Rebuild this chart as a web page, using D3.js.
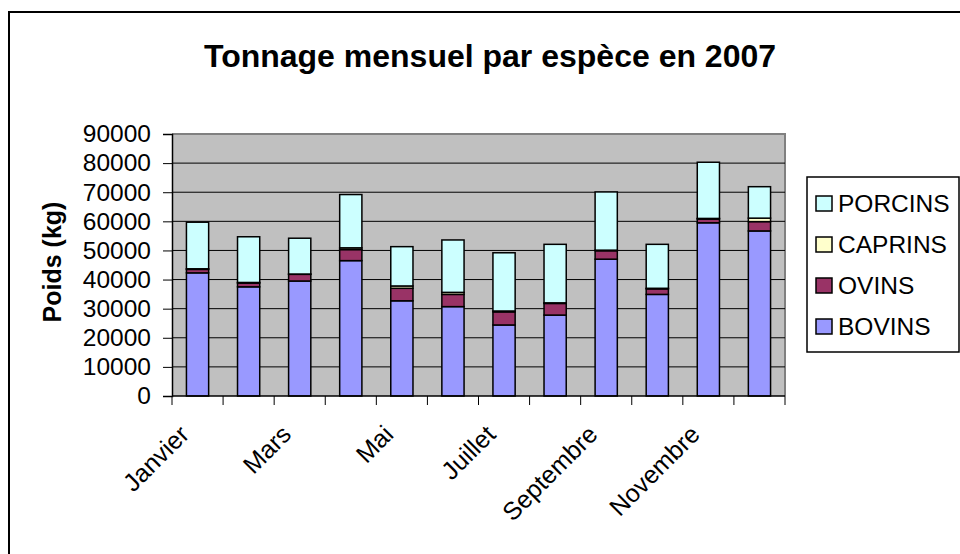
<!DOCTYPE html>
<html><head><meta charset="utf-8">
<script src="https://cdn.jsdelivr.net/npm/d3@7"></script>
<style>body{margin:0;background:#fff;} svg{display:block;}</style>
</head><body>
<svg id="chart" width="960" height="554"></svg>
<script>
const months = ["Janvier","Février","Mars","Avril","Mai","Juin","Juillet","Août","Septembre","Octobre","Novembre","Décembre"];
const shownLabels = ["Janvier","Mars","Mai","Juillet","Septembre","Novembre"];
const bovins  = [42300, 37500, 39500, 46500, 32700, 30700, 24400, 27800, 47000, 34900, 59500, 56700];
const ovins   = [ 1200,  1300,  2300,  3800,  4300,  4200,  4500,  4000,  2900,  1900,  1300,  3200];
const caprins = [  200,   200,   100,   600,   800,   700,   300,   200,   200,   200,   200,  1200];
const porcins = [16000, 15700, 12300, 18300, 13500, 18000, 20000, 20100, 20000, 15100, 19300, 10800];
const seriesNames = ["BOVINS","OVINS","CAPRINS","PORCINS"];
const seriesColors = ["#9999FF","#993366","#FFFFCC","#CCFFFF"];
const yTicks = [0,10000,20000,30000,40000,50000,60000,70000,80000,90000];
const title = "Tonnage mensuel par espèce en 2007";
const yTitle = "Poids (kg)";

(function(){
const svg = d3.select("#chart");
const font = "Arial, 'Liberation Sans', sans-serif";

// outer frame
svg.append("rect").attr("x",9).attr("y",12).attr("width",1000).attr("height",600)
  .attr("fill","#fff").attr("stroke","#000").attr("stroke-width",2);

const pL = 172, pR = 785, pT = 134, pB = 396;
const x = d3.scaleBand().domain(months).range([pL,pR]).padding(0);
const y = d3.scaleLinear().domain([0,90000]).range([pB,pT]);

// plot area
svg.append("rect").attr("x",pL).attr("y",pT).attr("width",pR-pL).attr("height",pB-pT)
  .attr("fill","#C0C0C0");
svg.append("path").attr("d",`M${pL},${pT}H${pR}V${pB}`).attr("fill","none")
  .attr("stroke","#808080").attr("stroke-width",2);

// gridlines
svg.append("g").selectAll("line").data(yTicks.slice(1,-1)).join("line")
  .attr("x1",pL).attr("x2",pR).attr("y1",d=>y(d)).attr("y2",d=>y(d))
  .attr("stroke","#000").attr("stroke-width",1);

// stacked data
const table = months.map((m,i)=>({month:m, BOVINS:bovins[i], OVINS:ovins[i], CAPRINS:caprins[i], PORCINS:porcins[i]}));
const stack = d3.stack().keys(seriesNames)(table);
const bw = x.bandwidth()/2.3;
const gBars = svg.append("g");
stack.forEach((s,si)=>{
  gBars.selectAll(null).data(s).join("rect")
    .attr("x",d=>x(d.data.month)+x.bandwidth()/2-bw/2)
    .attr("width",bw)
    .attr("y",d=>y(d[1]))
    .attr("height",d=>y(d[0])-y(d[1]))
    .attr("fill",seriesColors[si])
    .attr("stroke","#000").attr("stroke-width",1.5);
});

// y axis
const yAxis = d3.axisLeft(y).tickValues(yTicks).tickSize(9).tickPadding(12).tickFormat(d3.format("d"));
const gy = svg.append("g").attr("transform",`translate(${pL},0)`).call(yAxis);
gy.select(".domain").attr("stroke","#000").attr("stroke-width",1.5);
gy.selectAll(".tick line").attr("stroke","#000");
gy.selectAll(".tick text").attr("font-family",font).attr("font-size",24.5).attr("fill","#000");

// x axis
const gx = svg.append("g").attr("transform",`translate(0,${pB})`);
gx.append("line").attr("x1",pL).attr("x2",pR).attr("y1",0).attr("y2",0).attr("stroke","#000").attr("stroke-width",1.5);
const boundaries = months.map(m=>x(m)).concat([pR]);
gx.selectAll(".xt").data(boundaries).join("line").attr("class","xt")
  .attr("x1",d=>d).attr("x2",d=>d).attr("y1",0).attr("y2",9).attr("stroke","#000");
gx.selectAll(".xl").data(shownLabels).join("text").attr("class","xl")
  .attr("transform",d=>`translate(${x(d)+x.bandwidth()/2-7},${40}) rotate(-45)`)
  .attr("text-anchor","end").attr("font-family",font).attr("font-size",25).attr("fill","#000")
  .text(d=>d);

// title
svg.append("text").attr("x",490).attr("y",67).attr("text-anchor","middle")
  .attr("font-family",font).attr("font-weight","bold").attr("font-size",32).text(title);

// y title
svg.append("text").attr("transform",`translate(61,262) rotate(-90)`).attr("text-anchor","middle")
  .attr("font-family",font).attr("font-weight","bold").attr("font-size",25).text(yTitle);

// legend
const lg = svg.append("g");
lg.append("rect").attr("x",807).attr("y",177).attr("width",152).attr("height",175)
  .attr("fill","#fff").attr("stroke","#000").attr("stroke-width",1.5);
const legendOrder = ["PORCINS","CAPRINS","OVINS","BOVINS"];
const lrow = d3.scalePoint().domain(legendOrder).range([203,326]);
legendOrder.forEach(n=>{
  const c = seriesColors[seriesNames.indexOf(n)];
  lg.append("rect").attr("x",816).attr("y",lrow(n)-7).attr("width",16).attr("height",15)
    .attr("fill",c).attr("stroke","#000").attr("stroke-width",1.5);
  lg.append("text").attr("x",838).attr("y",lrow(n)+9).attr("font-family",font).attr("font-size",24.5).text(n);
});
})();
</script>
</body></html>
